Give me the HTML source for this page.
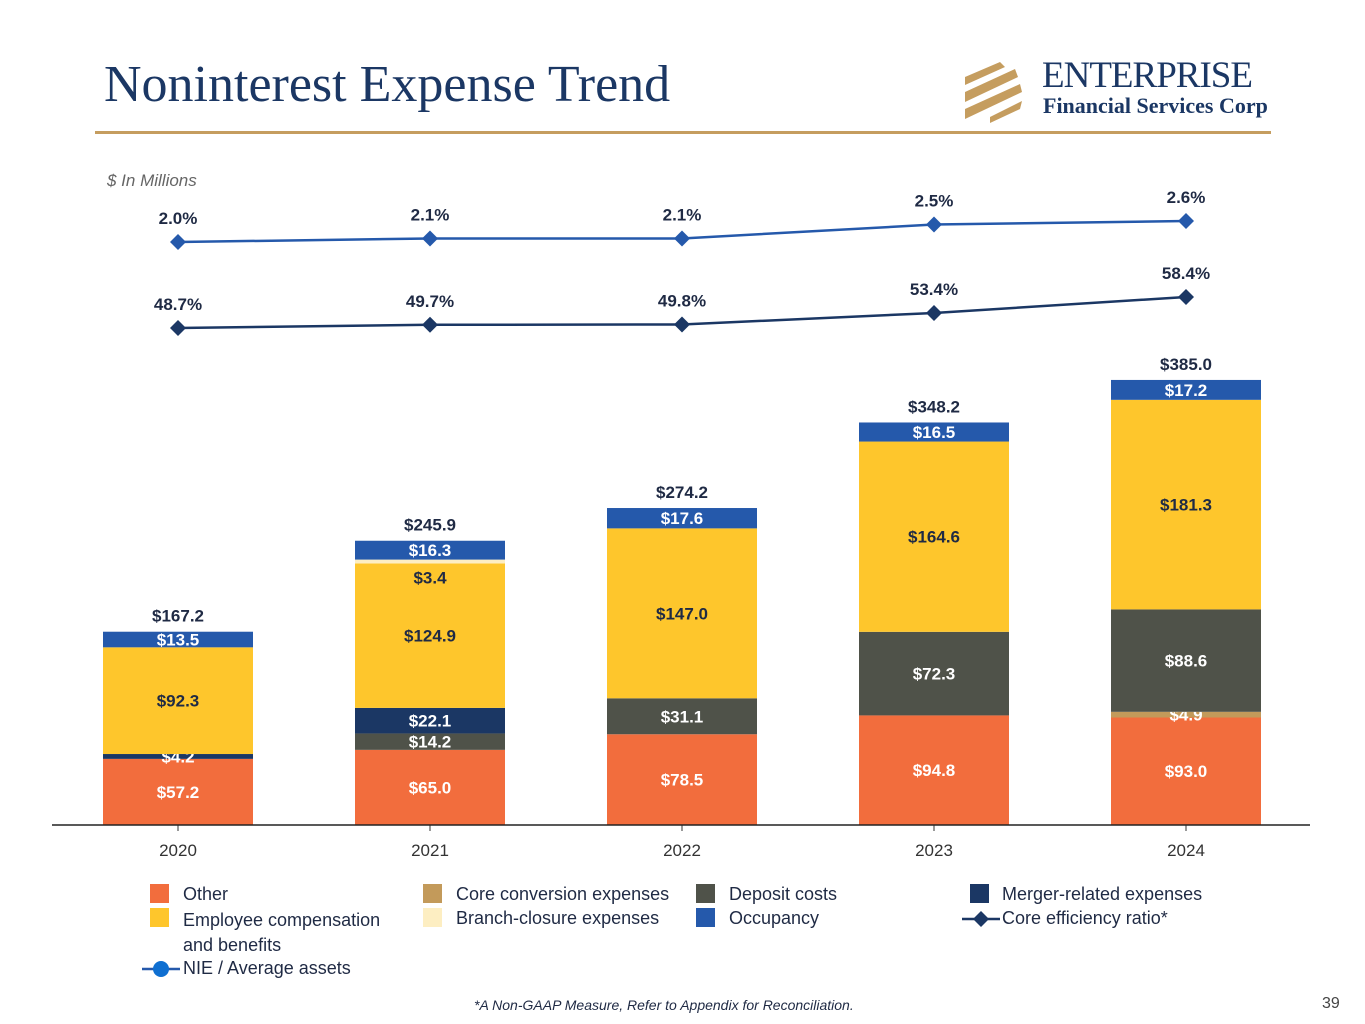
<!DOCTYPE html>
<html><head><meta charset="utf-8"><style>
body{margin:0;width:1365px;height:1024px;background:#fff;overflow:hidden;font-family:"Liberation Sans",sans-serif;position:relative}
.t{position:absolute}
.leg{position:absolute;font-size:18px;color:#1f2a44}
.sw{position:absolute;width:19px;height:19px}
</style></head><body>
<div class="t" style="left:104px;top:55px;font-family:'Liberation Serif',serif;font-size:52px;color:#1b3764">Noninterest Expense Trend</div>
<div class="t" style="left:960px;top:52px;width:320px;height:75px">
<svg width="80" height="70" style="position:absolute;left:0;top:5px">
<path d="M5 20 L40 5 L45 10 L5 28 Z" fill="#c59d5f"/><path d="M5 35 L55 12 L58 20 L5 45 Z" fill="#c59d5f"/><path d="M5 52 L60 27 L62 35 L5 62 Z" fill="#c59d5f"/><path d="M30 60 L62 44 L60 52 L30 66 Z" fill="#c59d5f"/></svg>
<div class="t" style="left:82px;top:2px;font-family:'Liberation Serif',serif;font-size:37px;color:#1b3764;letter-spacing:-1px">ENTERPRISE</div>
<div class="t" style="left:83px;top:41px;font-family:'Liberation Serif',serif;font-size:22px;color:#1b3764;font-weight:bold">Financial Services Corp</div>
</div>
<div class="t" style="left:95px;top:131px;width:1176px;height:3px;background:#c59d5f"></div>
<div class="t" style="left:107px;top:171px;font-size:17px;font-style:italic;color:#666">$ In Millions</div>
<svg id="c" class="t" style="left:0;top:0" width="1365" height="1024"></svg>
<div>
<div class="sw" style="left:150px;top:884px;background:#f26d3d"></div><div class="leg" style="left:183px;top:884px">Other</div>
<div class="sw" style="left:150px;top:908px;background:#fec62c"></div><div class="leg" style="left:183px;top:908px;line-height:25px">Employee compensation<br>and benefits</div>
<div class="sw" style="left:423px;top:884px;background:#c39a5a"></div><div class="leg" style="left:456px;top:884px">Core conversion expenses</div>
<div class="sw" style="left:423px;top:908px;background:#fdeec2"></div><div class="leg" style="left:456px;top:908px">Branch-closure expenses</div>
<div class="sw" style="left:696px;top:884px;background:#4f5249"></div><div class="leg" style="left:729px;top:884px">Deposit costs</div>
<div class="sw" style="left:696px;top:908px;background:#2559ab"></div><div class="leg" style="left:729px;top:908px">Occupancy</div>
<div class="sw" style="left:970px;top:884px;background:#1b3764"></div><div class="leg" style="left:1002px;top:884px">Merger-related expenses</div>
<svg class="t" style="left:962px;top:909px" width="38" height="20"><line x1="0" y1="10" x2="38" y2="10" stroke="#1b3764" stroke-width="2.5"/><path d="M19 2 L27 10 L19 18 L11 10Z" fill="#1b3764"/></svg><div class="leg" style="left:1002px;top:908px">Core efficiency ratio*</div>
<svg class="t" style="left:142px;top:959px" width="38" height="20"><line x1="0" y1="10" x2="38" y2="10" stroke="#2559ab" stroke-width="2.5"/><circle cx="19" cy="10" r="8" fill="#0f6fd1"/></svg><div class="leg" style="left:183px;top:958px">NIE / Average assets</div>
</div>
<div class="t" style="left:474px;top:997px;font-size:14px;font-style:italic;color:#1f2a44">*A Non-GAAP Measure, Refer to Appendix for Reconciliation.</div>
<div class="t" style="left:1322px;top:995px;font-size:16px;color:#444">39</div>
<script>
const years=["2020","2021","2022","2023","2024"];
const other=[57.2,65.0,78.5,94.8,93.0];
const coreConv=[0,0,0,0,4.9];
const deposit=[0,14.2,31.1,72.3,88.6];
const merger=[4.2,22.1,0,0,0];
const employee=[92.3,124.9,147.0,164.6,181.3];
const branch=[0,3.4,0,0,0];
const occupancy=[13.5,16.3,17.6,16.5,17.2];
const totals=[167.2,245.9,274.2,348.2,385.0];
const nie=[2.0,2.1,2.1,2.5,2.6];
const eff=[48.7,49.7,49.8,53.4,58.4];
const svg=document.getElementById('c');const NS='http://www.w3.org/2000/svg';
const x=i=>178+i*252; const base=825, ky=1.156; const y=v=>base-v*ky;
const yN=v=>242-(v-2.0)*35; const yE=v=>328-(v-48.7)*3.2;
function el(t,a,txt){const e=document.createElementNS(NS,t);for(const k in a)e.setAttribute(k,a[k]);if(txt!==undefined)e.textContent=txt;svg.appendChild(e);return e;}
const series=[[other,'#f26d3d','#fff','other'],[coreConv,'#c39a5a','#fff','core-conversion'],[deposit,'#4f5249','#fff','deposit'],[merger,'#1b3764','#fff','merger'],[employee,'#fec62c','#1f2a44','employee'],[branch,'#fdeec2','#1f2a44','branch'],[occupancy,'#2559ab','#fff','occupancy']];
years.forEach((yr,i)=>{let acc=0;
 series.forEach(s=>{const v=s[0][i];if(!v)return;
  const r=el('rect',{x:x(i)-75,y:y(acc+v),width:150,height:v*ky,fill:s[1]});
  
  
  let ly=y(acc+v/2)+6, col=s[2];
  if(s[3]==='branch'){ly=y(acc+v)+24;}
  const t=el('text',{x:x(i),y:ly,'text-anchor':'middle','font-size':17,'font-weight':'bold',fill:col},'$'+v.toFixed(1));
  
  
  acc+=v;});
 const tt=el('text',{x:x(i),y:y(totals[i])-10,'text-anchor':'middle','font-size':17,'font-weight':'bold',fill:'#1f2a44'},'$'+totals[i].toFixed(1));
 
 
 const xl=el('text',{x:x(i),y:856,'text-anchor':'middle','font-size':17,fill:'#333'},yr);
 
 
 el('line',{x1:x(i),y1:base,x2:x(i),y2:base+6,stroke:'#333'});
});
const ax=el('line',{x1:52,y1:base,x2:1310,y2:base,stroke:'#222','stroke-width':1.5});


function line(vals,fy,col,name){
 const l=el('polyline',{points:vals.map((v,i)=>x(i)+','+fy(v)).join(' '),fill:'none',stroke:col,'stroke-width':2.5});
 
 
 vals.forEach((v,i)=>{const px=x(i),py=fy(v);
  const m=el('path',{d:`M${px} ${py-8}L${px+8} ${py}L${px} ${py+8}L${px-8} ${py}Z`,fill:col});
  
  
  const t=el('text',{x:px,y:py-18,'text-anchor':'middle','font-size':17,'font-weight':'bold',fill:'#1f2a44'},v.toFixed(1)+'%');
  
  });
}
line(nie,yN,'#2559ab','nie');
line(eff,yE,'#1b3764','efficiency');
</script>
</body></html>
